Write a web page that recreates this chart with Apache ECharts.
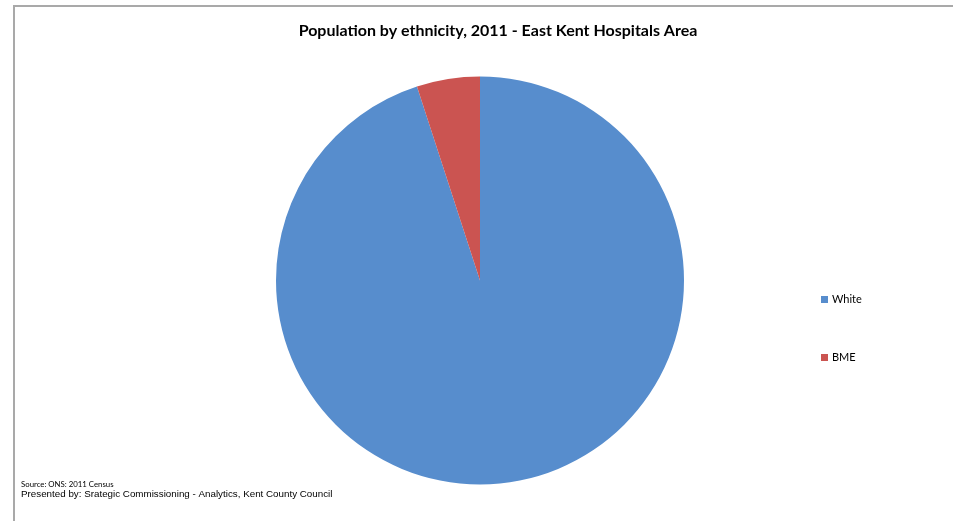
<!DOCTYPE html>
<html><head><meta charset="utf-8">
<script src="https://cdn.jsdelivr.net/npm/echarts@6/dist/echarts.min.js"></script>
<style>
html,body{margin:0;padding:0;background:#fff;}
#c{position:absolute;left:0;top:0;width:953px;height:521px;}
#frame{position:absolute;left:13px;top:5px;width:940px;height:516px;border-top:2px solid #a9a9a9;border-left:2px solid #a9a9a9;box-sizing:border-box;pointer-events:none;}
</style></head>
<body>
<div id="c"></div>
<div id="frame"></div>
<script>
const categories = ['White', 'BME'];
const values = [95.0, 5.0];
const colors = ['#578dcd', '#cb5451'];
const titleText = 'Population by ethnicity, 2011 - East Kent Hospitals Area';
const sourceText = 'Source: ONS: 2011 Census';
const presentedText = 'Presented by: Srategic Commissioning - Analytics, Kent County Council';

const chart = echarts.init(document.getElementById('c'), null, {renderer: 'canvas'});
chart.setOption({
  animation: false,
  backgroundColor: '#ffffff',
  title: [{
    text: titleText,
    left: 498, top: 23, textAlign: 'center', padding: 0,
    textStyle: {fontFamily: 'Lato', fontWeight: 'bold', fontSize: 16, color: '#000'}
  }, {
    text: sourceText,
    left: 21, top: 480, padding: 0,
    textStyle: {fontFamily: 'Lato', fontWeight: 'normal', fontSize: 7.8, color: '#000'}
  }, {
    text: presentedText,
    left: 21, top: 489, padding: 0,
    textStyle: {fontFamily: 'Liberation Sans', fontWeight: 'normal', fontSize: 9.8, color: '#000'}
  }],
  legend: {
    orient: 'vertical',
    left: 821, top: 294, padding: 0,
    itemWidth: 7, itemHeight: 7, itemGap: 47,
    icon: 'rect',
    data: categories,
    textStyle: {fontFamily: 'Lato', fontSize: 11, color: '#000', padding: [0, 0, 0, -1]}
  },
  series: [{
    type: 'pie',
    center: [480, 280.5],
    radius: 204,
    startAngle: 90,
    clockwise: true,
    label: {show: false},
    labelLine: {show: false},
    itemStyle: {borderWidth: 0},
    emphasis: {disabled: true},
    data: categories.map((c, i) => ({name: c, value: values[i], itemStyle: {color: colors[i]}}))
  }]
});
</script>
</body></html>
